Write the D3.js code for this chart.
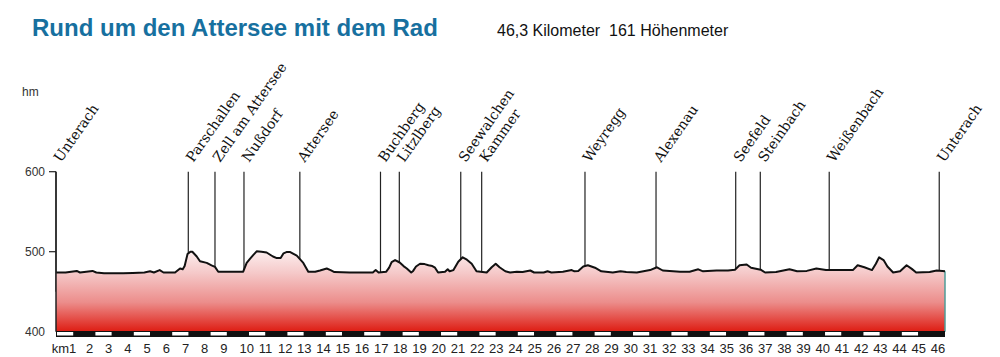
<!DOCTYPE html>
<html><head><meta charset="utf-8">
<script src="https://cdn.jsdelivr.net/npm/d3@7"></script>
<style>body{margin:0;background:#fff}svg{display:block}</style>
</head><body>
<svg id="c" width="1000" height="357"></svg>
<script>
const title = "Rund um den Attersee mit dem Rad";
const subtitle = "46,3 Kilometer  161 Höhenmeter";
const yTicks = [400, 500, 600];
const kmTicks = d3.range(1, 47);
const placeNames = ["Unterach","Parschallen","Zell am Attersee","Nußdorf","Attersee","Buchberg","Litzlberg","Seewalchen","Kammer","Weyregg","Alexenau","Seefeld","Steinbach","Weißenbach","Unterach"];
const placeKm = [0, 6.89, 8.28, 9.79, 12.7, 16.9, 17.88, 21.08, 22.17, 27.55, 31.25, 35.4, 36.68, 40.27, 46.0];
const profKm = [0,0.5,1.08,1.25,1.9,2.1,2.5,3.5,4.0,4.6,4.9,5.1,5.4,5.6,6.2,6.46,6.6,6.7,6.85,7.0,7.1,7.33,7.5,7.85,8.1,8.28,8.45,9.0,9.75,9.93,10.1,10.28,10.45,10.7,10.97,11.3,11.5,11.7,11.85,12.0,12.2,12.54,12.88,13.14,13.5,13.75,14.1,14.3,14.5,15.3,16.0,16.5,16.65,16.8,17.2,17.35,17.48,17.66,17.9,18.1,18.27,18.5,18.6,18.75,18.96,19.2,19.4,19.6,19.74,19.9,20.26,20.4,20.5,20.7,20.95,21.18,21.4,21.65,21.9,22.43,22.69,22.9,23.1,23.4,23.65,24.0,24.3,24.7,24.9,25.4,25.6,25.8,26.4,26.86,27.0,27.2,27.46,27.7,28.07,28.4,29.0,29.4,29.7,30.25,30.94,31.3,31.6,32.5,33.0,33.45,33.7,34.4,35.0,35.36,35.6,35.97,36.2,36.7,36.93,37.5,38.2,38.6,39.1,39.6,40.1,40.8,41.5,41.75,42.1,42.5,42.7,42.87,43.1,43.3,43.6,43.96,44.3,44.57,44.8,45.5,45.87,46.3];
const profElev = [474,474,476,474,476,474,473,473,473.5,474,475.5,474,477,474,474,479,478,482,497,500,500,494,488,486,483,481,475,475,475,486,491,496,500.5,500,499,494,492,492,498,499.5,499.5,495,486,475,475,476.5,479,477,474.5,474,474,474,477,474,475,480,487,489.5,486.5,482,479,474,476,481.5,485,484.5,483,482,480,474,475,478,475.5,477,487.5,493,490,485,475.5,474,480.5,485,480.5,475.5,474,475,474.5,476.5,474,474,475.5,474,475,477,475.5,476,481.5,483,480,475.5,474,475.5,474.5,474,477,480.5,476.5,475,475,478,475.5,476.5,476.5,477.5,483,484,480,477.5,474,474.5,478,475.5,476,479,477,477,477,483,480.5,477,485,493,489.5,481.5,474,475.5,483,478.5,474,474.5,476.5,475.5];

const svg = d3.select("#c");
const x = d3.scaleLinear().domain([0, 46.3]).range([56, 945]);
const y = d3.scaleLinear().domain([400, 600]).range([331.7, 171.7]);
const data = profKm.map((k, i) => [k, profElev[i]]);

// title
svg.append("text").attr("x", 32).attr("y", 36).text(title)
  .attr("font-family", "Liberation Sans, Arial, sans-serif").attr("font-weight", "bold")
  .attr("font-size", 24).attr("fill", "#17709f");
svg.append("text").attr("x", 497).attr("y", 36).text(subtitle)
  .attr("font-family", "Liberation Sans, Arial, sans-serif")
  .attr("font-size", 16).attr("fill", "#111").style("white-space", "pre");

// gradient
const defs = svg.append("defs");
const g = defs.append("linearGradient").attr("id", "fillg").attr("gradientUnits", "userSpaceOnUse")
  .attr("x1", 0).attr("x2", 0).attr("y1", y(505)).attr("y2", y(400));
[[0, "#fdf4f4"], [0.3, "#f5c9c9"], [0.65, "#ec8d8b"], [1, "#de1c12"]].forEach(s =>
  g.append("stop").attr("offset", s[0]).attr("stop-color", s[1]));

// place lines (behind area)
svg.append("g").selectAll("line").data(placeKm).join("line")
  .attr("x1", d => x(d)).attr("x2", d => x(d))
  .attr("y1", y(600)).attr("y2", y(450))
  .attr("stroke", "#222").attr("stroke-width", 1.2);

// area
svg.append("path").datum(data)
  .attr("d", d3.area().x(d => x(d[0])).y0(y(400)).y1(d => y(d[1])))
  .attr("fill", "url(#fillg)");
// right edge
svg.append("line").attr("x1", x(46.3)).attr("x2", x(46.3))
  .attr("y1", y(profElev[profElev.length - 1])).attr("y2", y(400))
  .attr("stroke", "#4f9c98").attr("stroke-width", 1.5);
// profile line
svg.append("path").datum(data)
  .attr("d", d3.line().x(d => x(d[0])).y(d => y(d[1])))
  .attr("fill", "none").attr("stroke", "#111").attr("stroke-width", 2).attr("stroke-linejoin", "round");

// y axis
svg.append("line").attr("x1", 56).attr("x2", 56).attr("y1", y(600)).attr("y2", y(400))
  .attr("stroke", "#222").attr("stroke-width", 1.5);
svg.append("g").selectAll("line").data(yTicks.filter(v => v > 400)).join("line")
  .attr("x1", 49).attr("x2", 56).attr("y1", d => y(d)).attr("y2", d => y(d))
  .attr("stroke", "#222").attr("stroke-width", 1.2);
svg.append("g").selectAll("text").data(yTicks).join("text")
  .attr("x", 45).attr("y", d => y(d) + 4).attr("text-anchor", "end").text(d => d)
  .attr("font-family", "Liberation Sans, Arial, sans-serif").attr("font-size", 12).attr("fill", "#333");
svg.append("text").attr("x", 22).attr("y", 96).text("hm")
  .attr("font-family", "Liberation Sans, Arial, sans-serif").attr("font-size", 12).attr("fill", "#333");

// km bar
const segs = d3.range(0, 46);
svg.append("rect").attr("x", x(0)).attr("y", 331).attr("width", x(46.3) - x(0)).attr("height", 6).attr("fill", "#111");
svg.append("g").selectAll("rect").data(segs.filter(k => k % 2 === 0)).join("rect")
  .attr("x", d => x(d) + 1).attr("y", 332).attr("width", d => x(d + 1) - x(d) - 3).attr("height", 3.5)
  .attr("fill", "#fff");

// km labels
svg.append("g").selectAll("text").data(kmTicks).join("text")
  .attr("x", d => d === 1 ? x(d) + 1 : x(d) - 8.5)
  .attr("y", 353)
  .attr("text-anchor", d => d === 1 ? "end" : "start")
  .text(d => d === 1 ? "km1" : d)
  .attr("font-family", "Liberation Sans, Arial, sans-serif").attr("font-size", 13).attr("fill", "#222");

// place labels
svg.append("g").selectAll("text").data(placeKm).join("text")
  .attr("transform", d => `translate(${x(d) + 5},163) rotate(-55)`)
  .text((d, i) => placeNames[i])
  .attr("font-family", "DejaVu Serif, serif").attr("font-size", 14).attr("fill", "#111");
</script>
</body></html>
